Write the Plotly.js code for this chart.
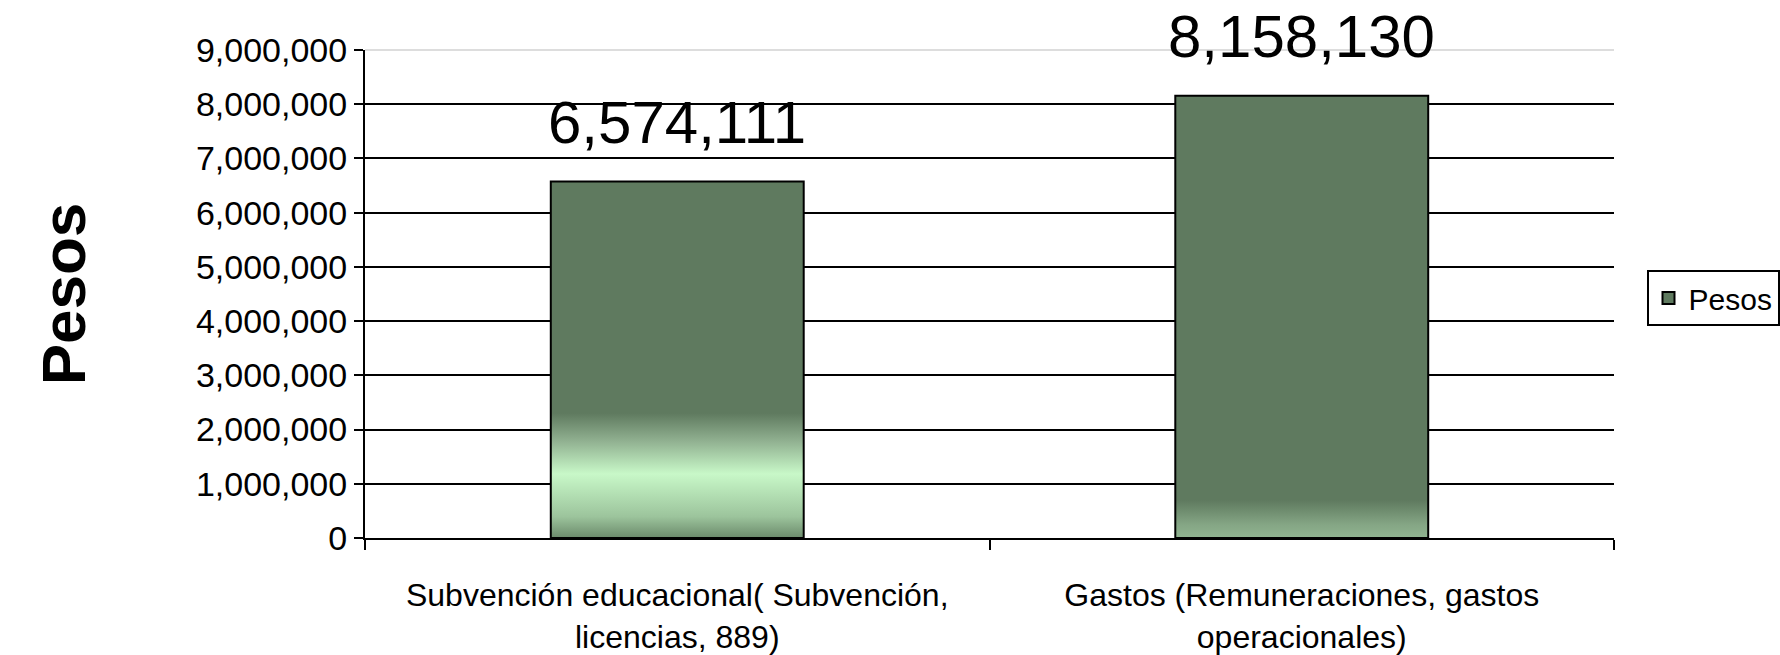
<!DOCTYPE html>
<html>
<head>
<meta charset="utf-8">
<script src="https://cdn.plot.ly/plotly-3.0.1.min.js"></script>
<style>html,body{margin:0;padding:0;background:#fff;}#chart{width:1780px;height:655px;}</style>
</head>
<body>
<div id="chart"></div>
<script>
// Data
const categories = ["Subvención educacional( Subvención,<br>licencias, 889)", "Gastos (Remuneraciones, gastos<br>operacionales)"];
const seriesName = "Pesos";
const values = [6574111, 8158130];
const yTickVals = [0, 1000000, 2000000, 3000000, 4000000, 5000000, 6000000, 7000000, 8000000, 9000000];

const FONT = "Liberation Sans, Arial, sans-serif";

const trace = {
  type: "bar",
  x: categories,
  y: values,
  name: seriesName,
  marker: {color: "#5f7a5f", line: {color: "#000", width: 2}},
  showlegend: true,
  hoverinfo: "none"
};

const annotations = values.map((v, i) => ({
  x: categories[i], y: v, xref: "x", yref: "y",
  text: v.toLocaleString("en-US"),
  showarrow: false, yanchor: "bottom", yshift: 24,
  font: {family: FONT, size: 60, color: "#000"}
}));

const layout = {
  width: 1780, height: 655,
  margin: {l: 365, r: 166, t: 50, b: 117, autoexpand: false},
  paper_bgcolor: "#fff", plot_bgcolor: "#fff",
  bargap: 0.595,
  font: {family: FONT, color: "#000"},
  xaxis: {
    type: "category",
    showline: true, linecolor: "#000", linewidth: 2,
    ticks: "outside", tickson: "boundaries", ticklen: 10, tickwidth: 2, tickcolor: "#000",
    ticklabelstandoff: 28,
    tickfont: {family: FONT, size: 32, color: "#000"},
    showgrid: false, zeroline: false, automargin: false
  },
  yaxis: {
    range: [0, 9000000],
    tickvals: yTickVals,
    tickformat: ",d",
    showline: true, linecolor: "#000", linewidth: 2,
    ticks: "outside", ticklen: 9, tickwidth: 2, tickcolor: "#000",
    tickfont: {family: FONT, size: 34, color: "#000"},
    showgrid: true, gridcolor: "#000", gridwidth: 2,
    zeroline: false, automargin: false,
    title: {text: "<b>Pesos</b>", font: {family: FONT, size: 62, color: "#000"}, standoff: 90}
  },
  legend: {
    xref: "container", yref: "container",
    x: 0.925, xanchor: "left", y: 0.545, yanchor: "middle",
    bordercolor: "#000", borderwidth: 2, bgcolor: "#fff",
    font: {family: FONT, size: 30, color: "#000"},
    itemwidth: 30, tracegroupgap: 0
  },
  shapes: [{
    type: "line", xref: "paper", yref: "paper", x0: 0, x1: 1, y0: 1, y1: 1,
    line: {color: "#dddddd", width: 2}, layer: "above"
  }],
  annotations: annotations
};

Plotly.newPlot("chart", [trace], layout, {staticPlot: true, displayModeBar: false}).then(gd => {
  // vertical gradient highlights on the bars
  const svg = gd.querySelector(".main-svg");
  const ns = "http://www.w3.org/2000/svg";
  let defs = svg.querySelector("defs");
  if (!defs) { defs = document.createElementNS(ns, "defs"); svg.insertBefore(defs, svg.firstChild); }
  const gradStops = [
    [[0, "#6b8a6b"], [0.06, "#9cc49c"], [0.18, "#c8f8c8"], [0.27, "#92b292"], [0.35, "#5f7a5f"], [1, "#5f7a5f"]],
    [[0, "#90b490"], [0.03, "#85a685"], [0.085, "#5f7a5f"], [1, "#5f7a5f"]]
  ];
  const paths = gd.querySelectorAll(".barlayer .point path");
  paths.forEach((p, i) => {
    const g = document.createElementNS(ns, "linearGradient");
    g.setAttribute("id", "bargrad" + i);
    g.setAttribute("x1", "0"); g.setAttribute("y1", "1");
    g.setAttribute("x2", "0"); g.setAttribute("y2", "0");
    (gradStops[i] || gradStops[0]).forEach(s => {
      const st = document.createElementNS(ns, "stop");
      st.setAttribute("offset", s[0]);
      st.setAttribute("stop-color", s[1]);
      g.appendChild(st);
    });
    defs.appendChild(g);
    p.style.fill = "url(#bargrad" + i + ")";
  });
});
</script>
</body>
</html>
